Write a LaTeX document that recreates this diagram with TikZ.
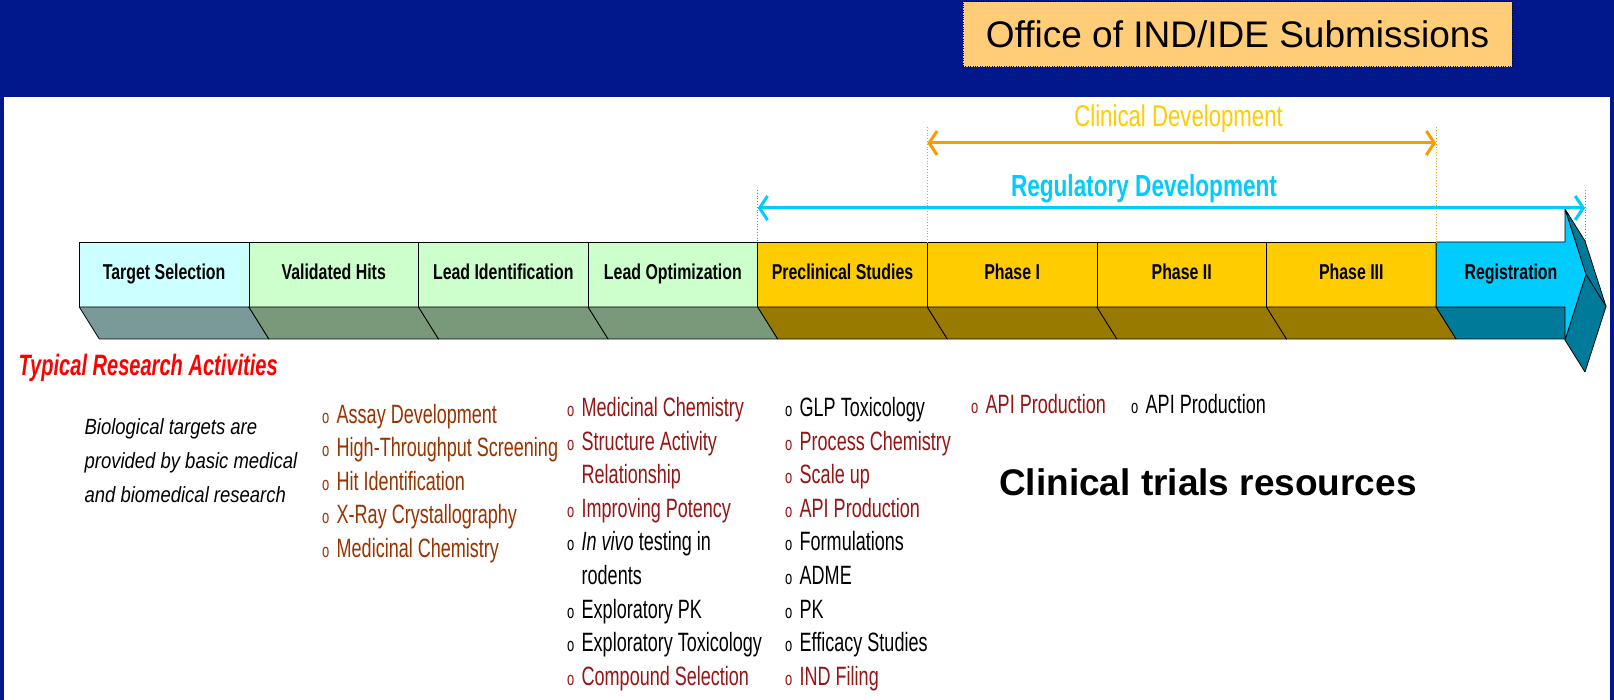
\documentclass[tikz,border=0pt]{standalone}
\usepackage{fontspec}
\setmainfont{Liberation Sans}
\newfontfamily\conda[FakeStretch=0.68]{Liberation Sans}
\newfontfamily\condb[FakeStretch=0.74]{Liberation Sans}
\newfontfamily\condc[FakeStretch=0.84]{Liberation Sans}
\usetikzlibrary{positioning,arrows.meta}

\definecolor{slideblue}{RGB}{0,24,140}
\definecolor{officefill}{RGB}{255,204,119}
\definecolor{targetfill}{RGB}{204,255,255}
\definecolor{targetshade}{RGB}{122,153,153}
\definecolor{hitfill}{RGB}{204,255,204}
\definecolor{hitshade}{RGB}{122,153,122}
\definecolor{phasefill}{RGB}{255,204,0}
\definecolor{phaseshade}{RGB}{153,122,0}
\definecolor{regfill}{RGB}{0,204,255}
\definecolor{regshade}{RGB}{0,122,153}
\definecolor{clinorange}{RGB}{255,153,0}
\definecolor{actred}{RGB}{255,0,0}
\definecolor{actbrown}{RGB}{153,51,0}
\definecolor{actdark}{RGB}{150,22,22}
\definecolor{guideblue}{RGB}{110,110,255}

% bullet and hanging indent of the activity lists
\newcommand{\bl}{\makebox[14.5pt][l]{\fontsize{19}{19}\selectfont o}}
\newcommand{\cont}{\hspace*{14.5pt}}
% bottom face of a stage box
\newcommand{\stageshade}[2]{%
  \draw[shade, fill=#2] (#1.south west) -- (#1.south east)
    -- ([shift={(20,32)}]#1.south east) -- ([shift={(20,32)}]#1.south west) -- cycle;}

\begin{document}
\begin{tikzpicture}[x=1pt, y=-1pt, node distance=0pt,
      stage/.style={draw=black, line width=0.8pt, outer sep=0pt, inner sep=0pt,
        minimum width=169.6pt, minimum height=65pt, text height=15.5pt, text depth=4.5pt,
        font=\condb\bfseries\fontsize{21.5}{24}\selectfont},
      shade/.style={draw=black, line width=0.8pt, line join=round},
      devarrow/.style={line width=3pt,
        {Straight Barb[length=8pt,width=24pt]}-{Straight Barb[length=8pt,width=24pt]}},
      guide/.style={line width=0.8pt, dotted},
      actlist/.style={anchor=base west, inner sep=0pt,
        font=\conda\fontsize{26.5}{33.6}\selectfont}]
    \fill[slideblue] (0,0) rectangle (1614,700);
    \fill[white] (4,97) rectangle (1610,700);
    \useasboundingbox (0,0) rectangle (1614,700);

    \node[draw=black, dotted, fill=officefill, minimum width=549pt, minimum height=65pt,
          font=\fontsize{37}{40}\selectfont] (office) at (1237.5,34.2) {Office of IND/IDE Submissions};

    % stages
    \node[stage, fill=targetfill] (target) at (164.1,274.5) {Target Selection};
    \node[stage, fill=hitfill, right=of target] (hits) {Validated Hits};
    \node[stage, fill=hitfill, right=of hits] (leadid) {Lead Identification};
    \node[stage, fill=hitfill, right=of leadid] (leadopt) {Lead Optimization};
    \node[stage, fill=phasefill, right=of leadopt] (preclin) {Preclinical Studies};
    \node[stage, fill=phasefill, right=of preclin] (phase1) {Phase I};
    \node[stage, fill=phasefill, right=of phase1] (phase2) {Phase II};
    \node[stage, fill=phasefill, right=of phase2] (phase3) {Phase III};
    \stageshade{target}{targetshade}
    \stageshade{hits}{hitshade}
    \stageshade{leadid}{hitshade}
    \stageshade{leadopt}{hitshade}
    \stageshade{preclin}{phaseshade}
    \stageshade{phase1}{phaseshade}
    \stageshade{phase2}{phaseshade}
    \stageshade{phase3}{phaseshade}

    % registration arrow
    \coordinate (bodytr) at (1565,242);
    \coordinate (bodybr) at (1565,307);
    \coordinate (headtop) at (1565,209);
    \coordinate (headtip) at (1586,274.5);
    \coordinate (headbot) at (1565,340);
    \draw[shade, fill=regshade] (phase3.south east) -- (bodybr) -- ++(20,32)
      -- ([shift={(20,32)}]phase3.south east) -- cycle;
    \draw[shade, fill=regshade] (headtop) -- ++(20,32) -- ([shift={(20,32)}]headtip) -- (headtip) -- cycle;
    \draw[shade, fill=regshade] (headtip) -- ++(20,32) -- ([shift={(20,32)}]headbot) -- (headbot) -- cycle;
    \draw[shade, fill=regfill] (phase3.north east) -- (bodytr) -- (headtop) -- (headtip)
      -- (headbot) -- (bodybr) -- (phase3.south east) -- cycle;
    \node[text height=15.5pt, text depth=4.5pt, font=\condb\bfseries\fontsize{21.5}{24}\selectfont]
      (registration) at (1511,274.5) {Registration};

    % development spans
    \coordinate (clinleft) at ([yshift=99pt]phase1.north west);
    \coordinate (clinright) at ([yshift=99pt]phase3.north east);
    \coordinate (regleft) at ([yshift=34pt]preclin.north west);
    \coordinate (regright) at (1585,208);
    \draw[guide, clinorange] ([yshift=115pt]phase1.north west) -- (phase1.north west);
    \draw[guide, clinorange] ([yshift=115pt]phase3.north east) -- (phase3.north east);
    \draw[guide, guideblue] ([yshift=52pt]preclin.north west) -- (preclin.north west);
    \draw[guide, guideblue] ([yshift=18pt]regright) -- ([yshift=-33pt]regright);
    \draw[devarrow, clinorange] (clinleft) -- (clinright);
    \draw[devarrow, regfill] (regleft) -- (regright);
    \node[anchor=base, font=\condb\fontsize{30}{32}\selectfont, text=phasefill]
      (clinlabel) at (1178.6,126.7) {Clinical Development};
    \node[anchor=base, font=\condb\bfseries\fontsize{30.5}{32}\selectfont, text=regfill]
      (reglabel) at (1144,197) {Regulatory Development};

    % activities
    \node[anchor=base west, inner sep=0pt, text=actred,
          font=\conda\bfseries\itshape\fontsize{29.5}{32}\selectfont]
      (typical) at (18.5,375.5) {Typical Research Activities};
    \node[anchor=base west, inner sep=0pt, font=\condc\itshape\fontsize{22}{34}\selectfont]
      (origin) at (84.4,434) {\begin{tabular}[t]{@{}l@{}}Biological targets are\\
        provided by basic medical\\ and biomedical research\end{tabular}};
    \node[actlist, text=actbrown] (hitacts) at (322,423) {\begin{tabular}[t]{@{}l@{}}
        \bl Assay Development\\ \bl High-Throughput Screening\\ \bl Hit Identification\\
        \bl X-Ray Crystallography\\ \bl Medicinal Chemistry\end{tabular}};
    \node[actlist] (leadacts) at (567,416.5) {\begin{tabular}[t]{@{}l@{}}
        \textcolor{actdark}{\bl Medicinal Chemistry}\\
        \textcolor{actdark}{\bl Structure Activity}\\
        \textcolor{actdark}{\cont Relationship}\\
        \textcolor{actdark}{\bl Improving Potency}\\
        \bl\textit{In vivo} testing in\\ \cont rodents\\
        \bl Exploratory PK\\ \bl Exploratory Toxicology\\
        \textcolor{actdark}{\bl Compound Selection}\end{tabular}};
    \node[actlist] (preclinacts) at (785,416.5) {\begin{tabular}[t]{@{}l@{}}
        \bl GLP Toxicology\\
        \textcolor{actdark}{\bl Process Chemistry}\\
        \textcolor{actdark}{\bl Scale up}\\
        \textcolor{actdark}{\bl API Production}\\
        \bl Formulations\\ \bl ADME\\ \bl PK\\ \bl Efficacy Studies\\
        \textcolor{actdark}{\bl IND Filing}\end{tabular}};
    \node[actlist, text=actdark] (phase1acts) at (971,413.5) {\bl API Production};
    \node[actlist] (phase2acts) at (1131,413.5) {\bl API Production};
    \node[anchor=base west, inner sep=0pt, font=\bfseries\fontsize{37}{40}\selectfont]
      (resources) at (999,495) {Clinical trials resources};
  \end{tikzpicture}
\end{document}
